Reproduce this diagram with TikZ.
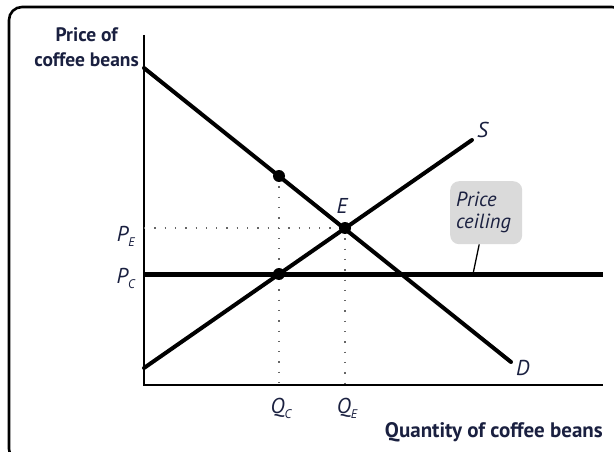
\documentclass[tikz,border=0pt]{standalone}
\usepackage{fontspec}
\setmainfont{PT Sans}
\usetikzlibrary{positioning,calc}
\definecolor{cbink}{RGB}{26,32,64}
\definecolor{cbbox}{RGB}{218,218,218}
\newcommand{\pq}[2]{#1\raisebox{-0.5ex}{\fontsize{12.5}{12.5}\selectfont #2}}

\begin{document}
\begin{tikzpicture}[x=1pt, y=-1pt,
  font=\fontsize{19}{22}\selectfont,
  curve/.style={line width=4pt, line cap=round},
  ceil/.style={line width=5pt},
  axis/.style={line width=1.8pt},
  guide/.style={line width=1.3pt, dash pattern=on 1.3pt off 9pt, black!60},
  dot/.style={circle, fill=black, inner sep=0pt, minimum size=12pt},
  lbl/.style={text=cbink, font=\itshape\fontsize{21.5}{24}\selectfont},
  ttl/.style={text=cbink, font=\bfseries\fontsize{19.5}{25}\selectfont, align=center}
]
\useasboundingbox (0,0) rectangle (614,452);
\clip (0,0) rectangle (614,452);
\draw[line width=2.6pt, rounded corners=13pt] (9,7) rectangle (625,462);

% axes
\coordinate (o) at (144,385);
\coordinate (ytop) at (144,35);
\coordinate (xend) at (603,385);
\draw[axis] (ytop) -- (o) -- (xend);
\node[ttl, anchor=south east, inner sep=0pt] (ylab) at (139,67) {Price of\\coffee beans};
\node[ttl, anchor=base east, inner sep=0pt, font=\bfseries\fontsize{21}{25}\selectfont]
  (xlab) at (603,437) {Quantity of coffee beans};

% curves
\coordinate (d0) at (144,68);
\coordinate (d1) at (511,362);
\coordinate (s0) at (144,368);
\coordinate (s1) at (472,140);
\coordinate (c0) at (144,274);
\coordinate (c1) at (603,274);
\coordinate (e) at (345,228);
\coordinate (qc) at (279,274);
\coordinate (qd) at (279,176);

% dotted guides
\draw[guide] (c0 |- e) -- (e);
\draw[guide] (e) -- (e |- o);
\draw[guide] (qd) -- (qd |- o);

\draw[curve] (d0) -- (d1);
\draw[curve] (s0) -- (s1);
\draw[ceil] (c0) -- (c1);

\node[dot] (ptE) at (e) {};
\node[dot] (ptC) at (qc) {};
\node[dot] (ptD) at (qd) {};

% labels
\node[lbl, anchor=base west, inner sep=0pt] (lS) at (477,138) {S};
\node[lbl, anchor=base west, inner sep=0pt] (lD) at (516,375) {D};
\node[lbl, anchor=base, inner sep=0pt] (lE) at (342,213) {E};
\node[lbl, anchor=base east, inner sep=0pt] (lPE) at (135,241) {\pq{P}{E}};
\node[lbl, anchor=base east, inner sep=0pt] (lPC) at (135,283) {\pq{P}{C}};
\node[lbl, anchor=base, inner sep=0pt] (lQC) at (281,413) {\pq{Q}{C}};
\node[lbl, anchor=base, inner sep=0pt] (lQE) at (347,413) {\pq{Q}{E}};

% price ceiling callout
\node[lbl, fill=cbbox, rounded corners=9pt, align=left, text width=60pt,
  minimum height=63pt, inner sep=6pt, anchor=north west,
  font=\itshape\fontsize{20.5}{22}\selectfont] (box) at (450,181) {Price\\ceiling};
\coordinate (tip) at (473,274);
\draw[line width=1.3pt] ($(box.south)+(-7,0)$) -- (tip);
\end{tikzpicture}
\end{document}
